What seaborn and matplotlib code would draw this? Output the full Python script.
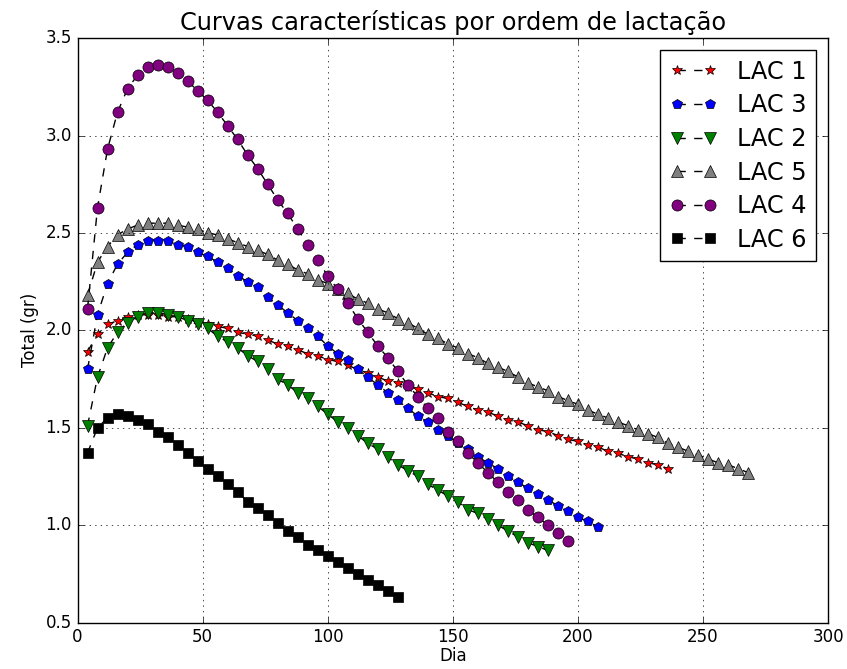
import matplotlib
matplotlib.use("Agg")
import matplotlib.pyplot as plt
import seaborn as sns

# ---------------- data ----------------
dias_lac1 = list(range(4, 237, 4))
lac1 = [1.89, 1.98, 2.03, 2.05, 2.07, 2.08, 2.08, 2.08, 2.07, 2.07,
        2.06, 2.04, 2.03, 2.02, 2.01, 1.99, 1.98, 1.97, 1.95, 1.93,
        1.92, 1.90, 1.88, 1.87, 1.85, 1.84, 1.82, 1.80, 1.78, 1.76,
        1.74, 1.73, 1.71, 1.70, 1.68, 1.66, 1.65, 1.63, 1.61, 1.59,
        1.58, 1.56, 1.54, 1.53, 1.51, 1.49, 1.48, 1.46, 1.44, 1.43,
        1.41, 1.40, 1.38, 1.37, 1.35, 1.34, 1.32, 1.31, 1.29]

dias_lac3 = list(range(4, 209, 4))
lac3 = [1.80, 2.08, 2.24, 2.34, 2.40, 2.44, 2.46, 2.46, 2.46, 2.44,
        2.43, 2.40, 2.38, 2.35, 2.32, 2.28, 2.25, 2.22, 2.17, 2.13,
        2.09, 2.05, 2.01, 1.97, 1.92, 1.88, 1.85, 1.80, 1.76, 1.72,
        1.68, 1.64, 1.60, 1.56, 1.53, 1.49, 1.46, 1.42, 1.39, 1.35,
        1.32, 1.29, 1.25, 1.22, 1.19, 1.16, 1.13, 1.10, 1.07, 1.04,
        1.02, 0.99]

dias_lac2 = list(range(4, 189, 4))
lac2 = [1.51, 1.76, 1.91, 1.99, 2.04, 2.07, 2.09, 2.09, 2.08, 2.07,
        2.05, 2.03, 2.01, 1.97, 1.94, 1.91, 1.87, 1.84, 1.80, 1.75,
        1.72, 1.68, 1.65, 1.61, 1.57, 1.53, 1.50, 1.46, 1.42, 1.39,
        1.35, 1.31, 1.28, 1.25, 1.21, 1.18, 1.15, 1.12, 1.08, 1.06,
        1.03, 1.00, 0.97, 0.94, 0.91, 0.89, 0.87]

dias_lac5 = list(range(4, 269, 4))
lac5 = [2.18, 2.35, 2.43, 2.49, 2.52, 2.54, 2.55, 2.55, 2.55, 2.54,
        2.53, 2.52, 2.50, 2.49, 2.47, 2.45, 2.43, 2.41, 2.39, 2.36,
        2.34, 2.31, 2.29, 2.26, 2.24, 2.21, 2.19, 2.16, 2.14, 2.11,
        2.09, 2.06, 2.04, 2.01, 1.98, 1.96, 1.93, 1.91, 1.88, 1.86,
        1.83, 1.81, 1.79, 1.76, 1.73, 1.71, 1.69, 1.66, 1.64, 1.62,
        1.59, 1.57, 1.55, 1.53, 1.51, 1.49, 1.47, 1.45, 1.42, 1.40,
        1.38, 1.36, 1.34, 1.32, 1.31, 1.29, 1.27]

dias_lac4 = list(range(4, 197, 4))
lac4 = [2.11, 2.63, 2.93, 3.12, 3.24, 3.31, 3.35, 3.36, 3.35, 3.32,
        3.28, 3.23, 3.18, 3.12, 3.05, 2.98, 2.90, 2.83, 2.75, 2.67,
        2.60, 2.52, 2.44, 2.36, 2.28, 2.21, 2.14, 2.06, 1.99, 1.92,
        1.86, 1.79, 1.72, 1.66, 1.60, 1.55, 1.48, 1.43, 1.37, 1.32,
        1.27, 1.22, 1.17, 1.13, 1.08, 1.04, 1.00, 0.96, 0.92]

dias_lac6 = list(range(4, 129, 4))
lac6 = [1.37, 1.50, 1.55, 1.57, 1.56, 1.54, 1.52, 1.48, 1.45, 1.41,
        1.37, 1.33, 1.29, 1.25, 1.21, 1.17, 1.12, 1.09, 1.05, 1.01,
        0.97, 0.94, 0.90, 0.87, 0.84, 0.81, 0.78, 0.75, 0.72, 0.69,
        0.66, 0.63]

series = [
    ("LAC 1", dias_lac1, lac1, "*", "red", 7),
    ("LAC 3", dias_lac3, lac3, "p", "blue", 7),
    ("LAC 2", dias_lac2, lac2, "v", "green", 8),
    ("LAC 5", dias_lac5, lac5, "^", "gray", 8),
    ("LAC 4", dias_lac4, lac4, "o", "purple", 8),
    ("LAC 6", dias_lac6, lac6, "s", "black", 7),
]

xticks = [0, 50, 100, 150, 200, 250, 300]
yticks = [0.5, 1.0, 1.5, 2.0, 2.5, 3.0, 3.5]

# ---------------- style ----------------
plt.style.use("classic")
plt.rcParams["figure.facecolor"] = "white"
plt.rcParams["savefig.facecolor"] = "white"
plt.rcParams["font.family"] = ["DejaVu Sans"]

fig = plt.figure(figsize=(8.47, 6.69), dpi=100)
ax = fig.add_axes([0.0915, 0.0695, 0.9776 - 0.0915, 0.943 - 0.0695])

for label, dias, vals, mk, fc, ms in series:
    sns.lineplot(x=dias, y=vals, ax=ax, color="k", linestyle="--",
                 linewidth=1.0, marker=mk, markerfacecolor=fc,
                 markeredgecolor="k", markeredgewidth=0.5,
                 markersize=ms, label=label)

ax.set_xlim(0, 300)
ax.set_ylim(0.5, 3.5)
ax.set_xticks(xticks)
ax.set_yticks(yticks)
ax.set_yticklabels([f"{v:.1f}" for v in yticks])
ax.grid(True, linestyle=":", color="k", linewidth=0.5)
ax.set_xlabel("Dia", labelpad=1)
ax.set_ylabel("Total (gr)")
ax.set_title("Curvas características por ordem de lactação",
             fontsize=17.28, pad=6)

ax.legend(loc="upper right", numpoints=2, prop={"size": 17.28},
          fancybox=False, frameon=True, labelspacing=0.4)

fig.savefig("out.png", dpi=100)
